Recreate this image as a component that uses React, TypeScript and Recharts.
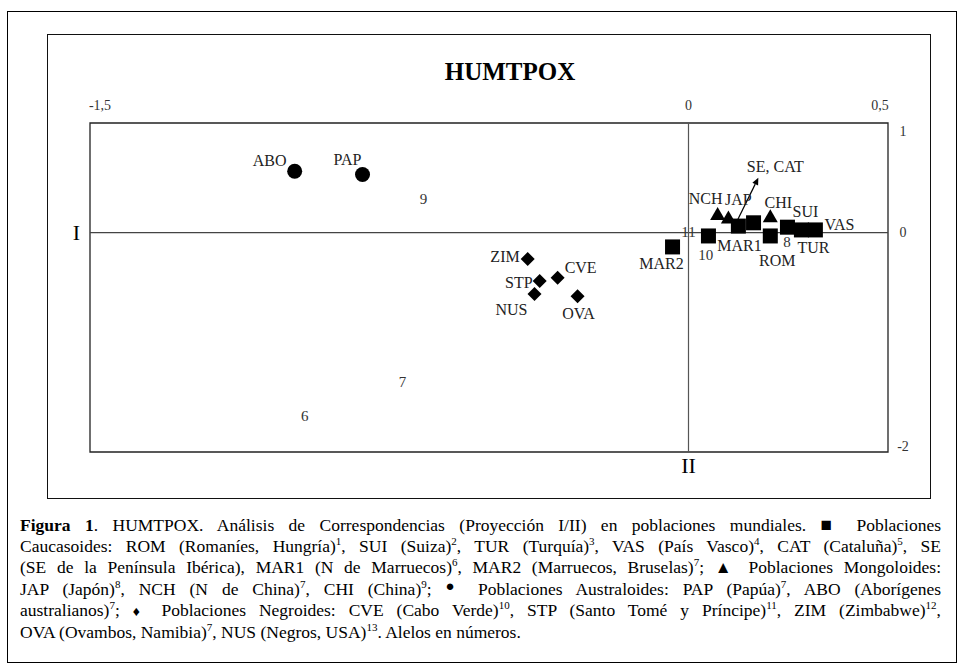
import React from 'react';
import { ScatterChart, Scatter, XAxis, YAxis, ReferenceLine, ReferenceArea } from 'recharts';

// ---- Data ----
const caucasoidNames = ['ROM', 'SUI', 'TUR', 'VAS', 'CAT', 'SE', 'MAR1', 'MAR2'];
const caucasoidX = [0.205, 0.248, 0.283, 0.318, 0.163, 0.125, 0.05, -0.04];
const caucasoidY = [-0.03, 0.05, 0.025, 0.025, 0.09, 0.06, -0.03, -0.13];

const mongoloidNames = ['JAP', 'NCH', 'CHI'];
const mongoloidX = [0.1, 0.073, 0.205];
const mongoloidY = [0.13, 0.16, 0.14];

const australoidNames = ['PAP', 'ABO'];
const australoidX = [-0.817, -0.987];
const australoidY = [0.53, 0.56];

const negroidNames = ['CVE', 'STP', 'ZIM', 'OVA', 'NUS'];
const negroidX = [-0.328, -0.373, -0.403, -0.278, -0.386];
const negroidY = [-0.41, -0.44, -0.24, -0.58, -0.56];

const alleleNames = ['6', '7', '8', '9', '10', '11'];
const alleleX = [-0.962, -0.717, 0.247, -0.664, 0.043, 0.0];
const alleleY = [-1.67, -1.36, -0.085, 0.31, -0.2, 0.01];

const arrowFrom = { x: 0.118, y: 0.08 };
const arrowTo = { x: 0.175, y: 0.5 };
const arrowLabel = 'SE, CAT';

const xDomain = [-1.5, 0.5];
const yDomain = [-2, 1];
const xTicks = [-1.5, 0, 0.5];
const yTicks = [1, 0, -2];

const title = 'HUMTPOX';
const axisILabel = 'I';
const axisIILabel = 'II';

// ---- Label placement (layout only) ----
const labelOffsets: Record<string, [number, number, string]> = {
  ROM: [7, 24, 'middle'],
  SUI: [18, -16, 'middle'],
  TUR: [-4, 17, 'start'],
  VAS: [24, -6, 'middle'],
  CAT: [0, 0, 'none'],
  SE: [0, 0, 'none'],
  MAR1: [31, 9, 'middle'],
  MAR2: [-11, 16, 'middle'],
  JAP: [10, -19, 'middle'],
  NCH: [-12, -17, 'middle'],
  CHI: [8, -15, 'middle'],
  PAP: [-15, -15, 'middle'],
  ABO: [-25, -11, 'middle'],
  CVE: [7, -10, 'start'],
  STP: [-7, 1, 'end'],
  ZIM: [-8, -3, 'end'],
  OVA: [1, 17, 'middle'],
  NUS: [-23, 15, 'middle'],
};

const build = (names: string[], xs: number[], ys: number[]) =>
  names.map((name, i) => ({ name, x: xs[i], y: ys[i] }));

const caucasoids = build(caucasoidNames, caucasoidX, caucasoidY);
const mongoloids = build(mongoloidNames, mongoloidX, mongoloidY);
const australoids = build(australoidNames, australoidX, australoidY);
const negroids = build(negroidNames, negroidX, negroidY);
const alleles = build(alleleNames, alleleX, alleleY);

const FONT = '"Liberation Serif", "Times New Roman", serif';
const LABEL_SIZE = 16;

const PointLabel = ({ cx, cy, name }: any) => {
  const off = labelOffsets[name];
  if (!off || off[2] === 'none') return null;
  return (
    <text
      x={cx + off[0]}
      y={cy + off[1] + LABEL_SIZE * 0.35}
      textAnchor={off[2] as any}
      fontFamily={FONT}
      fontSize={LABEL_SIZE}
      fill="#222"
    >
      {name}
    </text>
  );
};

const SquareShape = (p: any) => (
  <g>
    <rect x={p.cx - 7.5} y={p.cy - 7.5} width={15} height={15} fill="#000" />
    <PointLabel cx={p.cx} cy={p.cy} name={p.payload.name} />
  </g>
);
const TriangleShape = (p: any) => (
  <g>
    <polygon
      points={`${p.cx},${p.cy - 8} ${p.cx - 7.5},${p.cy + 5} ${p.cx + 7.5},${p.cy + 5}`}
      fill="#000"
    />
    <PointLabel cx={p.cx} cy={p.cy} name={p.payload.name} />
  </g>
);
const CircleShape = (p: any) => (
  <g>
    <circle cx={p.cx} cy={p.cy} r={7.5} fill="#000" />
    <PointLabel cx={p.cx} cy={p.cy} name={p.payload.name} />
  </g>
);
const DiamondShape = (p: any) => (
  <g>
    <polygon
      points={`${p.cx},${p.cy - 7} ${p.cx + 7},${p.cy} ${p.cx},${p.cy + 7} ${p.cx - 7},${p.cy}`}
      fill="#000"
    />
    <PointLabel cx={p.cx} cy={p.cy} name={p.payload.name} />
  </g>
);
const AlleleShape = (p: any) => (
  <text
    x={p.cx}
    y={p.cy + 5}
    textAnchor="middle"
    fontFamily={FONT}
    fontSize={15}
    fill="#333"
  >
    {p.payload.name}
  </text>
);

const fmt = (v: number) => String(v).replace('.', ',');

const XTick = (props: any) => {
  const { x, y, payload } = props;
  const v = payload.value;
  const dx = v === xDomain[0] ? 10 : v === xDomain[1] ? -8 : 0;
  return (
    <text x={x + dx} y={y - 13} textAnchor="middle" fontFamily={FONT} fontSize={14} fill="#333">
      {fmt(v)}
    </text>
  );
};

const YTick = (props: any) => {
  const { x, y, payload } = props;
  const v = payload.value;
  const dy = v === yDomain[1] ? 8 : v === yDomain[0] ? -6 : 0;
  return (
    <text x={x + 15} y={y + dy + 4.5} textAnchor="middle" fontFamily={FONT} fontSize={14} fill="#333">
      {fmt(v)}
    </text>
  );
};

const ArrowShape = (p: any) => {
  const { x1, y1, x2, y2 } = p;
  const ang = Math.atan2(y2 - y1, x2 - x1);
  const L = 7;
  const W = 3.2;
  const bx = x2 - L * Math.cos(ang);
  const by = y2 - L * Math.sin(ang);
  const px = -Math.sin(ang);
  const py = Math.cos(ang);
  return (
    <g>
      <line x1={x1} y1={y1} x2={bx} y2={by} stroke="#000" strokeWidth={1.2} />
      <polygon
        points={`${x2},${y2} ${bx + px * W},${by + py * W} ${bx - px * W},${by - py * W}`}
        fill="#000"
      />
      <text x={x2 + 17} y={y2 - 11 + 5.5} textAnchor="middle" fontFamily={FONT} fontSize={LABEL_SIZE} fill="#222">
        {arrowLabel}
      </text>
    </g>
  );
};

const sup = (n: string) => (
  <sup style={{ fontSize: 11, lineHeight: 0, verticalAlign: 'super' }}>{n}</sup>
);

const lineStyle: React.CSSProperties = {
  textAlign: 'justify',
  textAlignLast: 'justify',
  whiteSpace: 'nowrap',
  height: 21.6,
  lineHeight: '21.6px',
};

export default function App() {
  return (
    <div style={{ position: 'absolute', left: 0, top: 0, width: 962, height: 666, background: '#fff' }}>
      {/* outer border */}
      <div
        style={{
          position: 'absolute',
          left: 7,
          top: 11,
          width: 950,
          height: 652,
          border: '1.5px solid #000',
          boxSizing: 'border-box',
        }}
      />
      {/* inner frame */}
      <div
        style={{
          position: 'absolute',
          left: 47,
          top: 34,
          width: 884,
          height: 465,
          border: '1.3px solid #111',
          boxSizing: 'border-box',
        }}
      />
      <div
        style={{
          position: 'absolute',
          left: 360,
          width: 300,
          top: 56,
          textAlign: 'center',
          fontFamily: FONT,
          fontWeight: 'bold',
          fontSize: 25,
          lineHeight: '32px',
          color: '#000',
        }}
      >
        {title}
      </div>
      <div style={{ position: 'absolute', left: 47, top: 34 }}>
        <ScatterChart
          width={884}
          height={465}
          margin={{ top: 59, right: 13, bottom: 47, left: 43 }}
        >
          <XAxis
            type="number"
            dataKey="x"
            orientation="top"
            domain={xDomain}
            ticks={xTicks}
            allowDataOverflow
            axisLine={false}
            tickLine={false}
            tickSize={0}
            tickMargin={0}
            height={30}
            tick={<XTick />}
            interval={0}
          />
          <YAxis
            type="number"
            dataKey="y"
            orientation="right"
            domain={yDomain}
            ticks={yTicks}
            allowDataOverflow
            axisLine={false}
            tickLine={false}
            tickSize={0}
            tickMargin={0}
            width={30}
            tick={<YTick />}
            interval={0}
          />
          <ReferenceArea
            x1={xDomain[0]}
            x2={xDomain[1]}
            y1={yDomain[0]}
            y2={yDomain[1]}
            fill="none"
            fillOpacity={0}
            stroke="#222"
            strokeWidth={1.3}
          />
          <ReferenceLine
            y={0}
            stroke="#444"
            strokeWidth={1.2}
            label={{ value: axisILabel, position: 'left', offset: 10, fontFamily: FONT, fontSize: 22, fill: '#000' }}
          />
          <ReferenceLine
            x={0}
            stroke="#555"
            strokeWidth={1.2}
            label={{ value: axisIILabel, position: 'bottom', offset: 5, fontFamily: FONT, fontSize: 22, fill: '#000' }}
          />
          <ReferenceLine segment={[arrowFrom, arrowTo]} shape={ArrowShape} />
          <Scatter data={alleles} shape={AlleleShape} isAnimationActive={false} />
          <Scatter data={caucasoids} shape={SquareShape} isAnimationActive={false} />
          <Scatter data={mongoloids} shape={TriangleShape} isAnimationActive={false} />
          <Scatter data={australoids} shape={CircleShape} isAnimationActive={false} />
          <Scatter data={negroids} shape={DiamondShape} isAnimationActive={false} />
        </ScatterChart>
      </div>
      <div
        style={{
          position: 'absolute',
          left: 20,
          top: 514,
          width: 921,
          fontFamily: FONT,
          fontSize: 17.5,
          color: '#000',
        }}
      >
        <div style={lineStyle}>
          <b>Figura 1</b>. HUMTPOX. Análisis de Correspondencias (Proyección I/II) en poblaciones mundiales. <span style={{ fontSize: 19 }}>■</span> Poblaciones
        </div>
        <div style={lineStyle}>
          Caucasoides: ROM (Romaníes, Hungría){sup('1')}, SUI (Suiza){sup('2')}, TUR (Turquía){sup('3')}, VAS (País Vasco){sup('4')}, CAT (Cataluña){sup('5')}, SE
        </div>
        <div style={lineStyle}>
          (SE de la Península Ibérica), MAR1 (N de Marruecos){sup('6')}, MAR2 (Marruecos, Bruselas){sup('7')}; <span style={{ fontSize: 17 }}>▲</span> Poblaciones Mongoloides:
        </div>
        <div style={lineStyle}>
          JAP (Japón){sup('8')}, NCH (N de China){sup('7')}, CHI (China){sup('9')}; <span style={{ fontSize: 15, position: 'relative', top: -4 }}>●</span> Poblaciones Australoides: PAP (Papúa){sup('7')}, ABO (Aborígenes
        </div>
        <div style={lineStyle}>
          australianos){sup('7')}; <span style={{ fontSize: 14 }}>♦</span> Poblaciones Negroides: CVE (Cabo Verde){sup('10')}, STP (Santo Tomé y Príncipe){sup('11')}, ZIM (Zimbabwe){sup('12')},
        </div>
        <div style={{ ...lineStyle, textAlignLast: 'left' }}>
          OVA (Ovambos, Namibia){sup('7')}, NUS (Negros, USA){sup('13')}. Alelos en números.
        </div>
      </div>
    </div>
  );
}
